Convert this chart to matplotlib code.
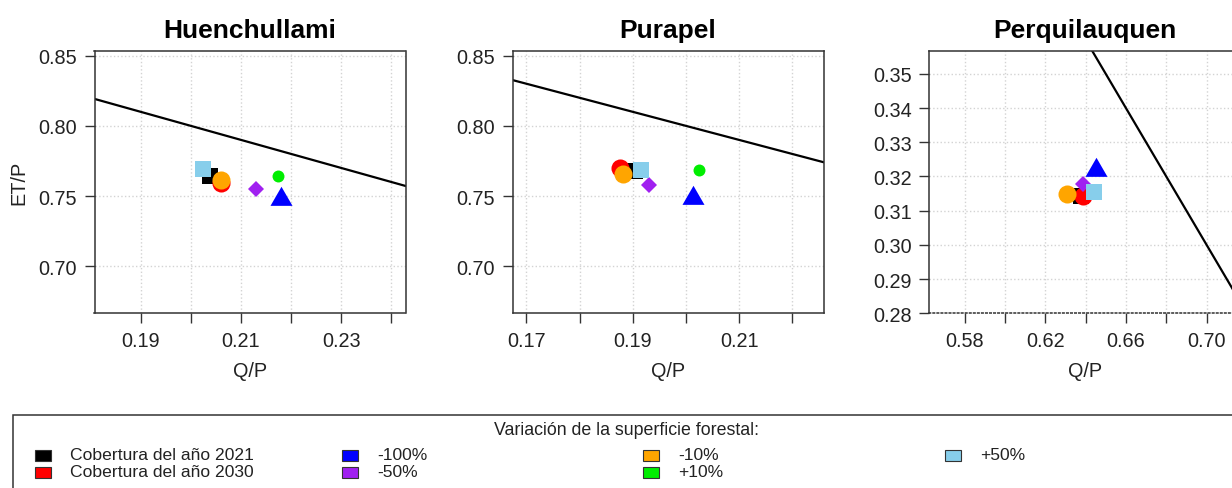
import matplotlib
matplotlib.use("Agg")
import matplotlib.pyplot as plt
from matplotlib.patches import Rectangle

plt.rcParams['font.family'] = ['Liberation Sans', 'DejaVu Sans']

# escenarios (orden de dibujo = orden de leyenda)
scenarios = ['Cobertura del año 2021', 'Cobertura del año 2030', '-100%', '-50%',
             '-10%', '+10%', '+50%']
colors = ['#000000', '#FF0000', '#0000FF', '#A020F0', '#FFA500', '#00EE00', '#87CEEB']

basins = ['Huenchullami', 'Purapel', 'Perquilauquen']

qp_huen = [0.2039, 0.2060, 0.2179, 0.2130, 0.2060, 0.2174, 0.2025]
etp_huen = [0.7641, 0.7593, 0.7479, 0.7551, 0.7613, 0.7643, 0.7695]

qp_pura = [0.1904, 0.1876, 0.2013, 0.1930, 0.1881, 0.2025, 0.1915]
etp_pura = [0.7680, 0.7701, 0.7487, 0.7578, 0.7659, 0.7687, 0.7689]

qp_perq = [0.6375, 0.6388, 0.6452, 0.6385, 0.6306, 0.6441, 0.6441]
etp_perq = [0.3143, 0.3143, 0.3218, 0.3178, 0.3150, 0.3154, 0.3154]

xticks_list = [[0.19, 0.20, 0.21, 0.22, 0.23, 0.24],
               [0.17, 0.18, 0.19, 0.20, 0.21, 0.22],
               [0.58, 0.60, 0.62, 0.64, 0.66, 0.68, 0.70]]
yticks_list = [[0.70, 0.75, 0.80, 0.85],
               [0.70, 0.75, 0.80, 0.85],
               [0.28, 0.29, 0.30, 0.31, 0.32, 0.33, 0.34, 0.35]]
xlims = [(0.1808, 0.2428), (0.1674, 0.2259), (0.5625, 0.7167)]
ylims = [(0.6665, 0.8531), (0.6665, 0.8531), (0.28, 0.3566)]

# balance hidrico: ET/P = 1 - Q/P
balance_intercept = 1.0
balance_slope = -1.0

tri = [(0, 1), (-0.866, -0.5), (0.866, -0.5)]
markers = ['s', 'o', tri, 'D', 'o', 'o', 's']
msizes = [12.2, 13, 18.3, 8.1, 13, 8.6, 12.2]

W, H = 1232, 489
fig = plt.figure(figsize=(W / 100, H / 100), dpi=100)

lefts = [94.5, 512.6, 929.3]
ax_w, top, bot = 311, 52.3, 314.3
data = [(qp_huen, etp_huen), (qp_pura, etp_pura), (qp_perq, etp_perq)]
txt = '#222222'

for i, name in enumerate(basins):
    ax = fig.add_axes([lefts[i] / W, 1 - bot / H, ax_w / W, (bot - top) / H])
    qp, etp = data[i]
    ax.axline((0, balance_intercept), slope=balance_slope, color='black', lw=1.6, zorder=2)
    for k in range(len(scenarios)):
        ax.plot(qp[k], etp[k], ls='none', marker=markers[k], ms=msizes[k],
                color=colors[k], mew=0, zorder=3)
    ax.set_xlim(*xlims[i])
    ax.set_ylim(*ylims[i])
    xt = xticks_list[i]
    ax.set_xticks(xt)
    ax.set_xticklabels([f'{v:.2f}' if j % 2 == 0 else '' for j, v in enumerate(xt)])
    yt = yticks_list[i]
    ax.set_yticks(yt)
    ax.set_yticklabels([f'{v:.2f}' for v in yt])
    ax.grid(True, color='#D3D3D3', ls=':', lw=1.0, zorder=0)
    ax.tick_params(direction='out', length=7, width=1, color='#333333',
                   labelsize=14.3, labelcolor=txt, pad=5.5)
    for s in ax.spines.values():
        s.set_color('#333333')
        s.set_linewidth(1.1)
    if i == 2:
        ax.spines['bottom'].set_linestyle(':')
    ax.set_title(name, y=1.053, pad=0, fontsize=19, fontweight='bold', color='black')
    ax.set_xlabel('Q/P', fontsize=14.3, color=txt)
    ax.xaxis.set_label_coords(0.5, -(372 - bot) / (bot - top))
    ax.xaxis.label.set_va('center')
    if i == 0:
        ax.set_ylabel('ET/P', fontsize=14.3, color=txt)
        ax.yaxis.set_label_coords(-(lefts[0] - 18.6) / ax_w, 0.5)
        ax.yaxis.label.set_va('center')

# leyenda estilo R (caja abierta por la derecha y abajo)
fig.add_artist(Rectangle((13 / W, 1 - 500 / H), (1239 - 13) / W, (500 - 416) / H,
                         transform=fig.transFigure, fill=False, ec='#333333', lw=1.1,
                         clip_on=False))
fig.text(626 / W, 1 - 431 / H, 'Variación de la superficie forestal:',
         ha='center', va='center', fontsize=12.8, color=txt)
col_x = [34.6, 342, 643, 945]
row_y = [456, 473]
for k, lab in enumerate(scenarios):
    c, r = divmod(k, 2)
    x0, y0 = col_x[c], row_y[r]
    fig.add_artist(Rectangle((x0 / W, 1 - (y0 + 5.5) / H), 16 / W, 11 / H,
                             transform=fig.transFigure, fc=colors[k], ec='#333333',
                             lw=0.8))
    fig.text((x0 + 35) / W, 1 - y0 / H, lab, ha='left', va='center',
             fontsize=12.6, color=txt)

fig.savefig('out.png', dpi=100)
